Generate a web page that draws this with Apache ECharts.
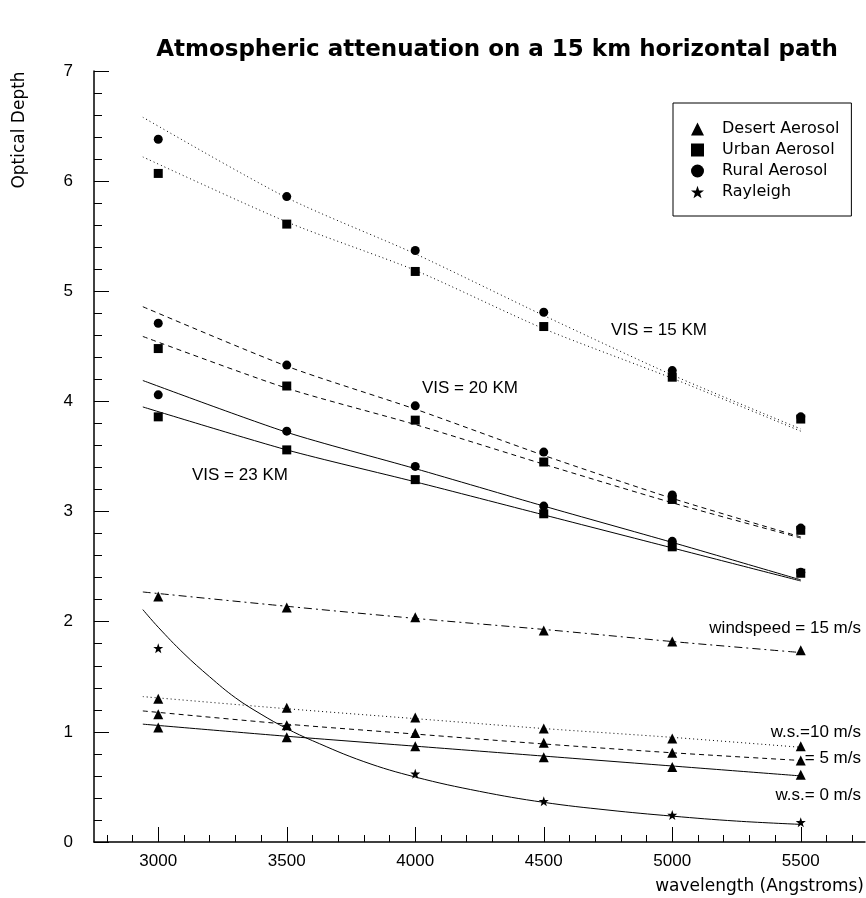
<!DOCTYPE html>
<html>
<head>
<meta charset="utf-8">
<script src="https://cdn.jsdelivr.net/npm/echarts@6/dist/echarts.min.js"></script>
<style>html,body{margin:0;padding:0;background:#fff}#c{width:866px;height:898px}</style>
</head>
<body>
<div id="c"></div>
<script>
// ---- data ----
const wavelengths = [3000, 3500, 4000, 4500, 5000, 5500];
const xTickLabels = [3000, 3500, 4000, 4500, 5000, 5500];

// markers (measured optical depth)
const rural15  = [6.38, 5.86, 5.37, 4.81, 4.28, 3.86];
const urban15  = [6.07, 5.61, 5.18, 4.68, 4.22, 3.84];
const rural20  = [4.71, 4.33, 3.96, 3.54, 3.15, 2.85];
const urban20  = [4.48, 4.14, 3.83, 3.45, 3.11, 2.83];
const rural23  = [4.06, 3.73, 3.41, 3.05, 2.73, 2.45];
const urban23  = [3.86, 3.56, 3.29, 2.98, 2.68, 2.44];
const desert15 = [2.23, 2.13, 2.04, 1.92, 1.82, 1.74];
const desert10 = [1.30, 1.22, 1.13, 1.03, 0.94, 0.87];
const desert5  = [1.16, 1.06, 0.99, 0.90, 0.81, 0.74];
const desert0  = [1.04, 0.95, 0.87, 0.77, 0.68, 0.61];
const rayleigh = [1.76, 1.05, 0.62, 0.37, 0.245, 0.18];

// fitted curves
const fitX        = [2940, 3500, 4000, 4500, 5000, 5500];
const fitRural15  = [6.58, 5.85, 5.34, 4.78, 4.24, 3.75];
const fitUrban15  = [6.22, 5.63, 5.19, 4.66, 4.21, 3.73];
const fitRural20  = [4.86, 4.32, 3.93, 3.51, 3.12, 2.77];
const fitUrban20  = [4.59, 4.12, 3.79, 3.43, 3.08, 2.76];
const fitRural23  = [4.19, 3.72, 3.39, 3.05, 2.72, 2.38];
const fitUrban23  = [3.95, 3.56, 3.27, 2.97, 2.67, 2.37];
const fitDesert15 = [2.27, 2.14, 2.03, 1.93, 1.82, 1.72];
const fitDesert10 = [1.32, 1.21, 1.12, 1.03, 0.95, 0.86];
const fitDesert5  = [1.19, 1.07, 0.98, 0.89, 0.81, 0.74];
const fitDesert0  = [1.07, 0.96, 0.87, 0.78, 0.69, 0.60];
const rayleighFitX = [2940, 3000, 3100, 3200, 3300, 3400, 3500, 3600, 3800, 4000, 4250, 4500, 4750, 5000, 5250, 5500];
const rayleighFit  = [2.11, 1.95, 1.71, 1.50, 1.31, 1.16, 1.03, 0.92, 0.73, 0.59, 0.46, 0.36, 0.29, 0.235, 0.19, 0.16];

const legendNames = ['Desert Aerosol', 'Urban Aerosol', 'Rural Aerosol', 'Rayleigh'];
const titleText = 'Atmospheric attenuation on a 15 km horizontal path';
const yName = 'Optical Depth';
const xName = 'wavelength (Angstroms)';

// ---- build ----
const STAR = 'path://M0,-10L2.35,-3.24L9.51,-3.09L3.8,1.24L5.88,8.09L0,4L-5.88,8.09L-3.8,1.24L-9.51,-3.09L-2.35,-3.24Z';
const minorTicks = [];
for (let v = 2800; v <= 5700; v += 100) minorTicks.push(v);

function pairs(xs, ys) { return xs.map((x, i) => [x, ys[i]]); }

function fitLine(ys, type, xs) {
  return {
    type: 'line', data: pairs(xs || fitX, ys), showSymbol: false, symbol: 'none',
    smooth: xs ? 0.4 : 0.25, silent: true, z: 2,
    lineStyle: { color: '#000', width: 1, type: type }
  };
}
function marks(name, ys, symbol, size) {
  return {
    type: 'scatter', name: name, data: pairs(wavelengths, ys), symbol: symbol,
    symbolSize: size, itemStyle: { color: '#000', opacity: 1 }, z: 3, silent: true
  };
}

const series = [
  fitLine(fitRural15, [1, 3]),
  fitLine(fitUrban15, [1, 3]),
  fitLine(fitRural20, [5, 4]),
  fitLine(fitUrban20, [5, 4]),
  fitLine(fitRural23, 'solid'),
  fitLine(fitUrban23, 'solid'),
  fitLine(fitDesert15, [8, 4, 2, 4]),
  fitLine(fitDesert10, [1, 3]),
  fitLine(fitDesert5, [5, 4]),
  fitLine(fitDesert0, 'solid'),
  fitLine(rayleighFit, 'solid', rayleighFitX),
  marks('Desert Aerosol', desert15, 'triangle', 10),
  marks('Desert Aerosol', desert10, 'triangle', 10),
  marks('Desert Aerosol', desert5, 'triangle', 10),
  marks('Desert Aerosol', desert0, 'triangle', 10),
  marks('Urban Aerosol', urban15, 'rect', 9),
  marks('Urban Aerosol', urban20, 'rect', 9),
  marks('Urban Aerosol', urban23, 'rect', 9),
  marks('Rural Aerosol', rural15, 'circle', 9),
  marks('Rural Aerosol', rural20, 'circle', 9),
  marks('Rural Aerosol', rural23, 'circle', 9),
  marks('Rayleigh', rayleigh, STAR, 10)
];

const annFont = '17px "Liberation Sans", Arial, sans-serif';
function ann(text, x, y, align) {
  return { type: 'text', x: x, y: y, z: 10, silent: true,
    style: { text: text, fill: '#000', font: annFont, align: align || 'left', verticalAlign: 'middle',
             textAlign: align || 'left', textVerticalAlign: 'middle' } };
}

const chart = echarts.init(document.getElementById('c'), null, { renderer: 'canvas' });
chart.setOption({
  animation: false,
  backgroundColor: '#fff',
  title: {
    text: titleText, left: 492, top: 34, textAlign: 'center',
    textStyle: { fontFamily: '"DejaVu Sans", sans-serif', fontWeight: 'bold', fontSize: 23, color: '#000' }
  },
  grid: { left: 94, right: 1, top: 71, bottom: 56, containLabel: false },
  legend: {
    show: true, orient: 'vertical', left: 673, top: 103,
    data: [
      { name: legendNames[0], icon: 'triangle' },
      { name: legendNames[1], icon: 'rect' },
      { name: legendNames[2], icon: 'circle' },
      { name: legendNames[3], icon: STAR }
    ],
    itemWidth: 13, itemHeight: 13, itemGap: 5,
    padding: [18, 12, 16, 18],
    borderColor: '#000', borderWidth: 1,
    selectedMode: false,
    textStyle: { fontFamily: '"DejaVu Sans", sans-serif', fontSize: 16, color: '#000', lineHeight: 13, padding: [0, 0, 0, 13] },
    itemStyle: { color: '#000' }
  },
  xAxis: [
    {
      type: 'value', min: 2750, max: 5750, position: 'bottom',
      axisLine: { show: true, onZero: false, lineStyle: { color: '#000', width: 1.5 } },
      axisTick: { show: true, inside: true, length: 15, customValues: xTickLabels, lineStyle: { color: '#000', width: 1 } },
      axisLabel: { show: true, customValues: xTickLabels, margin: 11, color: '#000', fontSize: 17,
                   fontFamily: '"Liberation Sans", Arial, sans-serif', formatter: v => String(v) },
      splitLine: { show: false }
    },
    {
      type: 'value', min: 2750, max: 5750, position: 'bottom',
      axisLine: { show: false, onZero: false },
      axisTick: { show: true, inside: true, length: 7, customValues: minorTicks, lineStyle: { color: '#000', width: 1 } },
      axisLabel: { show: false },
      splitLine: { show: false }
    }
  ],
  yAxis: {
    type: 'value', min: 0, max: 7, interval: 1,
    axisLine: { show: true, lineStyle: { color: '#000', width: 1.5 } },
    axisTick: { show: true, inside: true, length: 15, lineStyle: { color: '#000', width: 1 } },
    minorTick: { show: true, splitNumber: 5, length: 8, lineStyle: { color: '#000', width: 1 } },
    axisLabel: { margin: 21, color: '#000', fontSize: 17, fontFamily: '"Liberation Sans", Arial, sans-serif' },
    splitLine: { show: false }, minorSplitLine: { show: false }
  },
  series: series,
  graphic: [
    { type: 'text', x: 20, y: 130, rotation: Math.PI / 2, silent: true,
      style: { text: yName, fill: '#000', font: '17px "DejaVu Sans", sans-serif', align: 'center', verticalAlign: 'middle',
               textAlign: 'center', textVerticalAlign: 'middle' } },
    { type: 'text', x: 864, y: 887, silent: true,
      style: { text: xName, fill: '#000', font: '17px "DejaVu Sans", sans-serif', align: 'right', verticalAlign: 'middle',
               textAlign: 'right', textVerticalAlign: 'middle' } },
    ann('VIS = 15 KM', 611, 330),
    ann('VIS = 20 KM', 422, 388),
    ann('VIS = 23 KM', 192, 475),
    ann('windspeed = 15 m/s', 861, 628, 'right'),
    ann('w.s.=10 m/s', 861, 732, 'right'),
    ann('= 5 m/s', 861, 758, 'right'),
    ann('w.s.= 0 m/s', 861, 795, 'right')
  ]
});
</script>
</body>
</html>
